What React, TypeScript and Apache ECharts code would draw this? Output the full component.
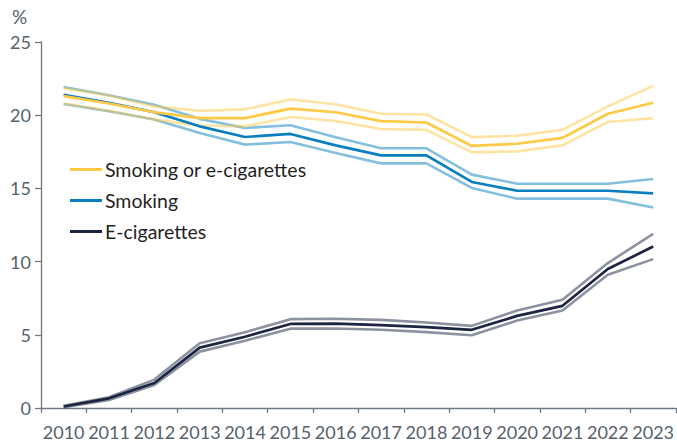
import React, { useEffect, useRef } from "react";
import * as echarts from "echarts";

const years = ["2010","2011","2012","2013","2014","2015","2016","2017","2018","2019","2020","2021","2022","2023"];
const yTicks = [0, 5, 10, 15, 20, 25];

const anyMain = [21.3, 20.8, 20.2, 19.8, 19.8, 20.45, 20.2, 19.6, 19.5, 17.9, 18.05, 18.45, 20.1, 20.85];
const anyUpper = [21.85, 21.35, 20.6, 20.3, 20.4, 21.07, 20.75, 20.1, 20.05, 18.5, 18.6, 19.0, 20.6, 22.0];
const anyLower = [20.8, 20.3, 19.7, 19.3, 19.24, 19.88, 19.6, 19.06, 19.0, 17.46, 17.53, 17.94, 19.54, 19.8];

const smokeMain = [21.4, 20.84, 20.2, 19.24, 18.51, 18.72, 17.94, 17.26, 17.26, 15.44, 14.84, 14.84, 14.84, 14.66];
const smokeUpper = [21.93, 21.36, 20.72, 19.75, 19.13, 19.31, 18.49, 17.74, 17.74, 15.94, 15.32, 15.32, 15.32, 15.64];
const smokeLower = [20.77, 20.27, 19.7, 18.79, 17.99, 18.17, 17.42, 16.71, 16.71, 15.03, 14.3, 14.3, 14.3, 13.7];

const ecigMain = [0.1, 0.66, 1.71, 4.12, 4.87, 5.74, 5.77, 5.66, 5.52, 5.34, 6.29, 6.98, 9.49, 11.03];
const ecigUpper = [0.15, 0.73, 1.94, 4.42, 5.18, 6.07, 6.1, 6.02, 5.84, 5.61, 6.66, 7.39, 9.9, 11.9];
const ecigLower = [0.05, 0.55, 1.57, 3.85, 4.6, 5.42, 5.43, 5.34, 5.18, 4.97, 5.97, 6.66, 9.1, 10.17];

const names = ["Smoking or e-cigarettes", "Smoking", "E-cigarettes"];
const colors = ["#ffc845", "#0a7fc0", "#1c2541"];

const FONT = "Lato, 'Liberation Sans', sans-serif";
const AXIS = "#6f7983";
const LABEL = "#56616c";

export default function App() {
  const ref = useRef<HTMLDivElement>(null);
  useEffect(() => {
    if (!ref.current) return;
    const chart = echarts.init(ref.current, null, { renderer: "svg" });
    const band = (name: string, data: number[], color: string) => ({
      name,
      type: "line",
      data,
      showSymbol: false,
      symbol: "none",
      silent: true,
      lineStyle: { color, width: 2.6, opacity: 0.5 },
      z: 2,
    });
    const main = (name: string, data: number[], color: string) => ({
      name,
      type: "line",
      data,
      showSymbol: false,
      symbol: "none",
      lineStyle: { color, width: 2.7 },
      itemStyle: { color },
      z: 3,
    });
    chart.setOption({
      animation: false,
      grid: { left: 41, right: 0, top: 42, bottom: 37, containLabel: false },
      legend: {
        orient: "vertical",
        left: 70,
        top: 159.5,
        padding: 0,
        itemWidth: 32,
        itemHeight: 3,
        itemGap: 11,
        icon: "rect",
        data: names,
        textStyle: { fontFamily: FONT, fontSize: 19.5, lineHeight: 20, color: "#1f1f1f", padding: [0, 0, 0, -2] },
        selectedMode: false,
      },
      xAxis: {
        type: "category",
        data: years,
        boundaryGap: true,
        axisLine: { show: true, lineStyle: { color: AXIS, width: 1.3 } },
        axisTick: { show: true, length: 5, lineStyle: { color: AXIS, width: 1.3 } },
        axisLabel: { fontFamily: FONT, fontSize: 18, color: LABEL, margin: 15, interval: 0 },
        splitLine: { show: false },
      },
      yAxis: {
        type: "value",
        min: yTicks[0],
        max: yTicks[yTicks.length - 1],
        interval: 5,
        axisLine: { show: true, lineStyle: { color: AXIS, width: 1.3 } },
        axisTick: { show: true, length: 6, lineStyle: { color: AXIS, width: 1.3 } },
        axisLabel: { fontFamily: FONT, fontSize: 18, color: LABEL, margin: 10 },
        splitLine: { show: false },
      },
      graphic: [
        {
          type: "text",
          left: 12,
          top: 7,
          style: { text: "%", fontFamily: FONT, fontSize: 19, fill: LABEL },
        },
      ],
      series: [
        band("ecig-upper", ecigUpper, colors[2]),
        band("ecig-lower", ecigLower, colors[2]),
        band("smoke-upper", smokeUpper, colors[1]),
        band("smoke-lower", smokeLower, colors[1]),
        band("any-upper", anyUpper, colors[0]),
        band("any-lower", anyLower, colors[0]),
        main(names[2], ecigMain, colors[2]),
        main(names[1], smokeMain, colors[1]),
        main(names[0], anyMain, colors[0]),
      ],
    });
    return () => chart.dispose();
  }, []);
  return (
    <div
      ref={ref}
      style={{ position: "fixed", left: 0, top: 0, width: 677, height: 445, background: "#ffffff" }}
    />
  );
}
